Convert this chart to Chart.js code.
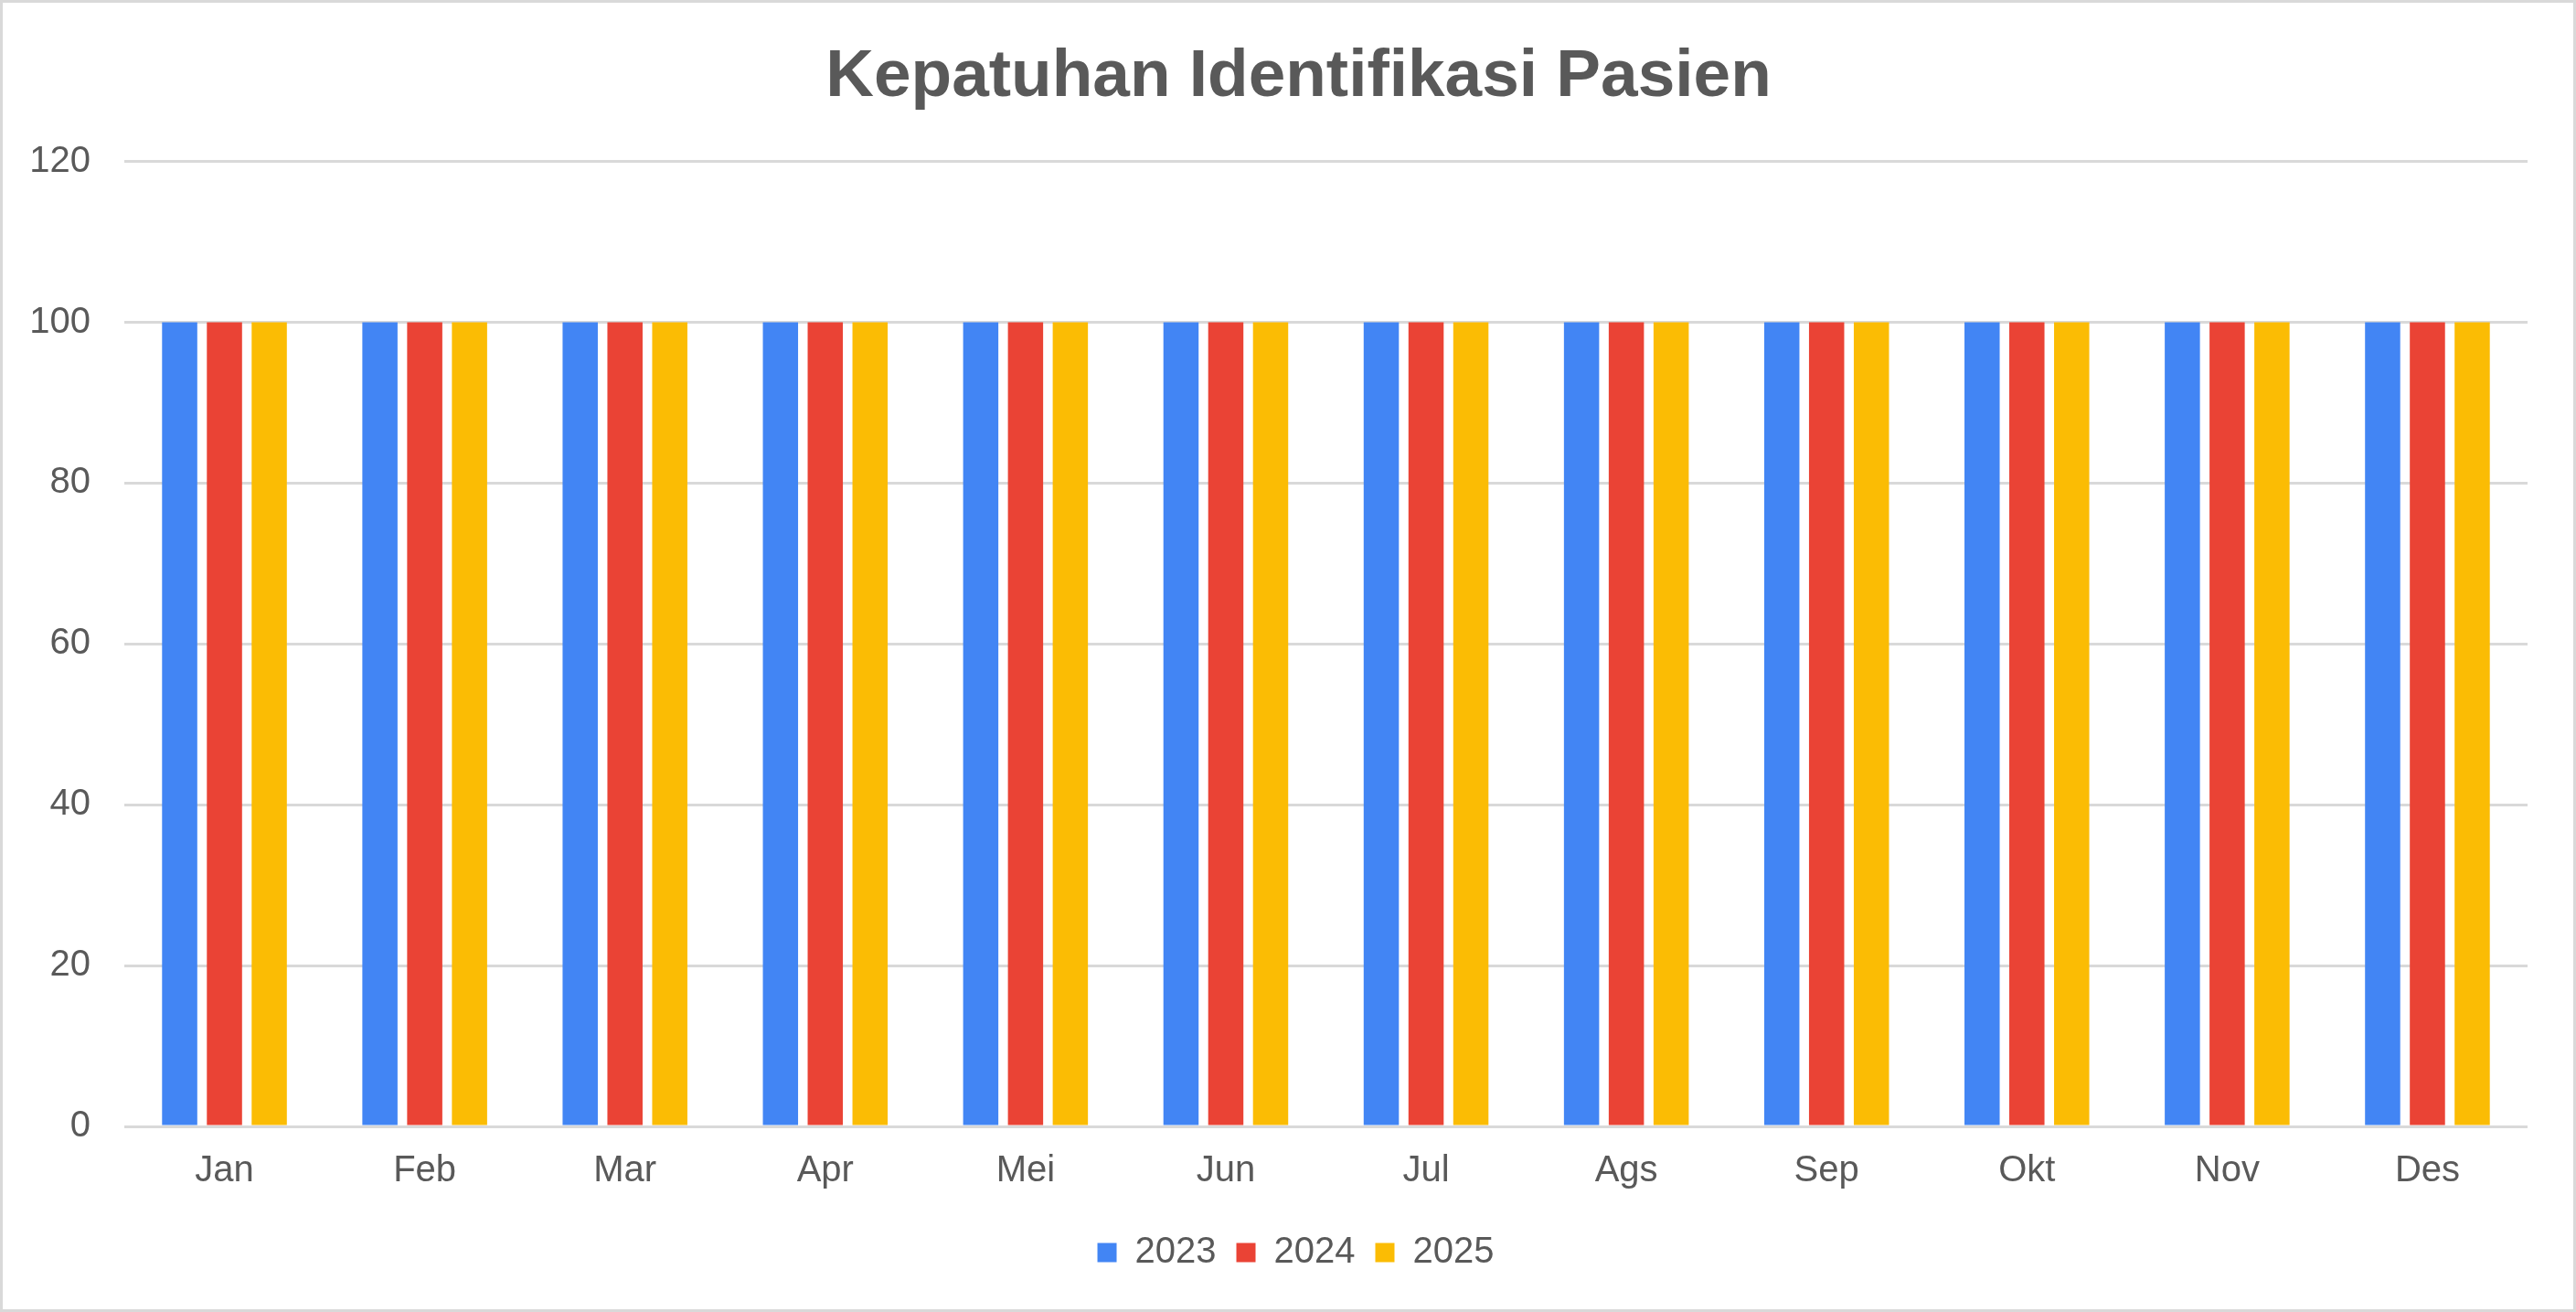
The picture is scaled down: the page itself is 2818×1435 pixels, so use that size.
<!DOCTYPE html>
<html>
<head>
<meta charset="utf-8">
<title>Kepatuhan Identifikasi Pasien</title>
<script src="https://cdn.jsdelivr.net/npm/chart.js@4.4.1/dist/chart.umd.min.js"></script>
<style>
    html, body { margin: 0; padding: 0; background: #ffffff; }
    #wrap { position: relative; width: 2818px; height: 1435px; }
    #chartCanvas { position: absolute; left: 0; top: 0; }
    #frame {
        position: absolute; left: 0; top: 0; width: 2818px; height: 1435px;
        box-sizing: border-box; border: 3px solid #d9d9d9; pointer-events: none;
    }
</style>
</head>
<body>
<div id="wrap">
    <canvas id="chartCanvas" width="2818" height="1435"></canvas>
    <div id="frame"></div>
</div>
<script>
// Chart data
const months = ["Jan", "Feb", "Mar", "Apr", "Mei", "Jun", "Jul", "Ags", "Sep", "Okt", "Nov", "Des"];
const years = ["2023", "2024", "2025"];
const values2023 = [100, 100, 100, 100, 100, 100, 100, 100, 100, 100, 100, 100];
const values2024 = [100, 100, 100, 100, 100, 100, 100, 100, 100, 100, 100, 100];
const values2025 = [100, 100, 100, 100, 100, 100, 100, 100, 100, 100, 100, 100];
const yMin = 0;
const yMax = 120;
const yStep = 20;

const colors = ["#4285F4", "#EA4335", "#FBBC04"];
const textColor = "#595959";
const fontFamily = "'Liberation Sans', Arial, sans-serif";

// Nudge title and legend so they sit centred like the original
const centerShift = {
    id: 'centerShift',
    afterLayout: (chart) => {
        chart.legend.left += 19;
        chart.legend.right += 19;
        chart.titleBlock.left += 22;
        chart.titleBlock.right += 22;
    },
};

// Render the grouped bar chart
const renderComplianceChart = () => {
    const ctx = document.getElementById('chartCanvas').getContext('2d');
    const series = [values2023, values2024, values2025];

    new Chart(ctx, {
        type: 'bar',
        data: {
            labels: months,
            datasets: series.map((values, i) => ({
                label: years[i],
                data: values,
                backgroundColor: colors[i],
                borderWidth: 0,
                categoryPercentage: 0.671,
                barPercentage: 0.786,
            })),
        },
        options: {
            responsive: false,
            animation: false,
            devicePixelRatio: 1,
            layout: {
                padding: { top: 0, left: 32, right: 53, bottom: 35 },
            },
            plugins: {
                title: {
                    display: true,
                    text: 'Kepatuhan Identifikasi Pasien',
                    color: textColor,
                    font: { family: fontFamily, size: 73, weight: 'bold' },
                    padding: { top: 41, bottom: 48 },
                },
                legend: {
                    display: true,
                    position: 'bottom',
                    labels: {
                        color: textColor,
                        font: { family: fontFamily, size: 40 },
                        boxWidth: 21,
                        boxHeight: 21,
                        padding: 22,
                    },
                },
                tooltip: { enabled: false },
            },
            scales: {
                x: {
                    grid: { display: false, drawTicks: false },
                    border: { display: false },
                    ticks: {
                        color: textColor,
                        font: { family: fontFamily, size: 40 },
                        padding: 25,
                        maxRotation: 0,
                    },
                    // fixed band for the month labels, gap above the legend
                    afterFit: (scale) => { scale.height = 96; },
                },
                y: {
                    min: yMin,
                    max: yMax,
                    border: { display: false },
                    grid: { color: '#d9d9d9', lineWidth: 3, drawTicks: false },
                    ticks: {
                        stepSize: yStep,
                        color: textColor,
                        font: { family: fontFamily, size: 40 },
                        padding: 37,
                    },
                    afterFit: (scale) => { scale.width = 104; },
                },
            },
        },
        plugins: [centerShift],
    });
};

document.addEventListener('DOMContentLoaded', renderComplianceChart);
</script>
</body>
</html>
